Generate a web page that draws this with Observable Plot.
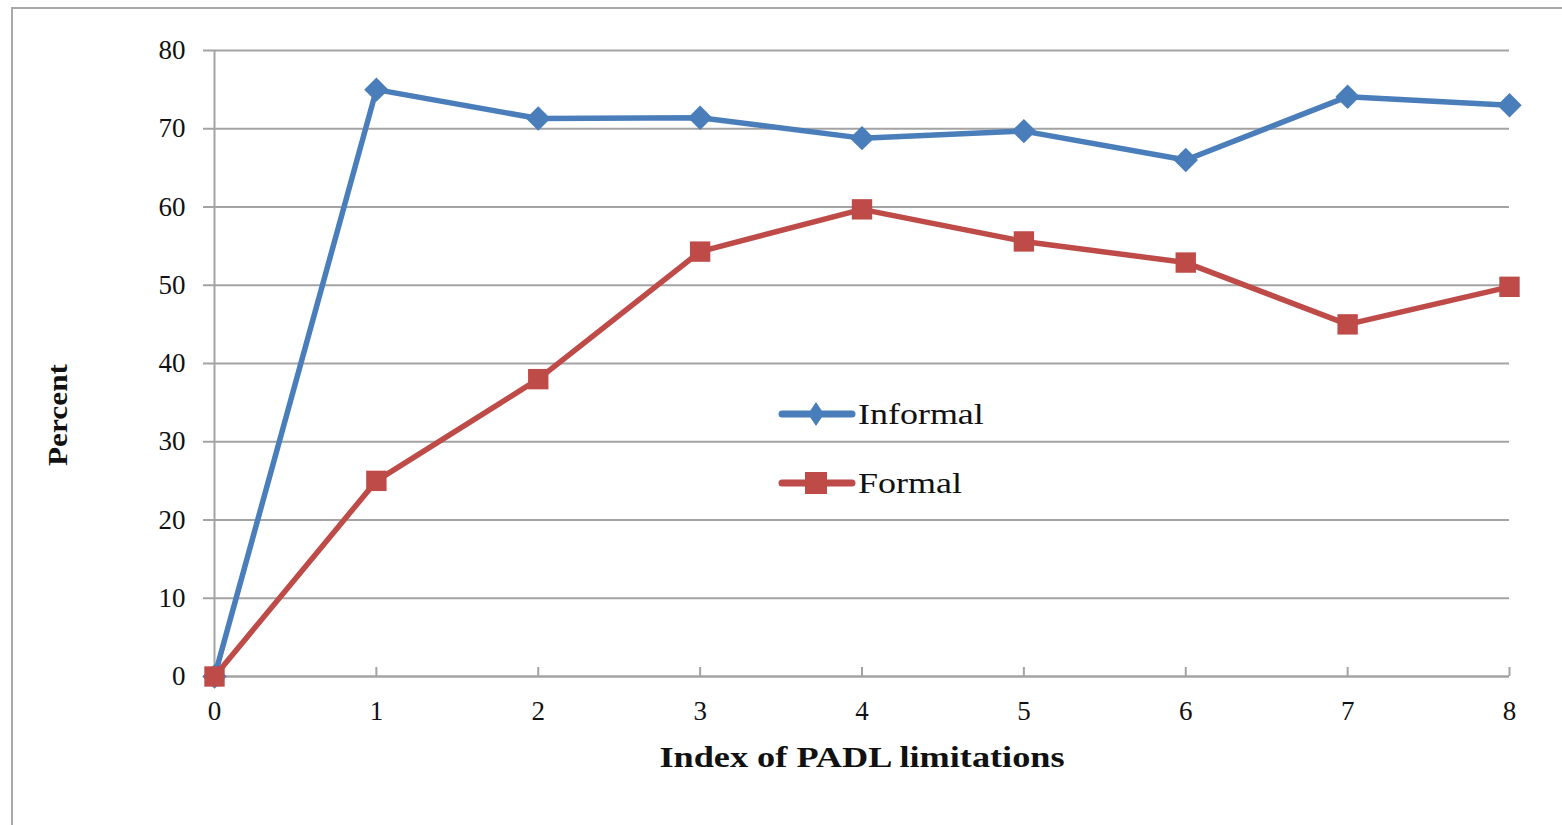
<!DOCTYPE html>
<html>
<head>
<meta charset="utf-8">
<script src="https://cdn.jsdelivr.net/npm/d3@7"></script>
<script src="https://cdn.jsdelivr.net/npm/@observablehq/plot@0.6"></script>
<style>
  html, body { margin: 0; padding: 0; background: #fff; width: 1562px; height: 825px; overflow: hidden; }
  #wrap { position: relative; width: 1562px; height: 825px; font-family: "Liberation Serif", serif; color: #111; }
  #frame { position: absolute; left: 11px; top: 7px; width: 1600px; height: 900px; border-top: 2px solid #a8a8a8; border-left: 2px solid #a8a8a8; }
  #chart { position: absolute; left: 0; top: 0; }
  .xlabel { position: absolute; left: 862px; top: 757px; transform: translate(-50%, -50%) scaleX(1.25); font-weight: bold; font-size: 29px; white-space: nowrap; }
  .ylabel { position: absolute; left: 58px; top: 415px; transform: translate(-50%, -50%) rotate(-90deg) scaleX(1.16); font-weight: bold; font-size: 27px; white-space: nowrap; }
  .legend { position: absolute; left: 778px; font-size: 29px; display: flex; align-items: center; }
  .legend svg { margin-right: 2px; }
  .legend span { display: inline-block; transform: scaleX(1.24); transform-origin: left center; }
</style>
</head>
<body>
<div id="wrap">
  <div id="frame"></div>
  <div id="chart"></div>
  <div class="xlabel">Index of PADL limitations</div>
  <div class="ylabel">Percent</div>
  <div id="legend"></div>
</div>
<script>
// ---- data ----
const xIndex = [0, 1, 2, 3, 4, 5, 6, 7, 8];
const informal = [0, 75, 71.3, 71.4, 68.8, 69.7, 66, 74.1, 73.0];
const formal = [0, 25, 38, 54.3, 59.7, 55.6, 52.9, 45.0, 49.8];
const yTicks = [0, 10, 20, 30, 40, 50, 60, 70, 80];
const xTicks = [0, 1, 2, 3, 4, 5, 6, 7, 8];
const seriesNames = ["Informal", "Formal"];
const seriesColors = ["#4a7ebb", "#be4b48"];

const infData = xIndex.map((x, i) => ({x, y: informal[i]}));
const forData = xIndex.map((x, i) => ({x, y: formal[i]}));
const grid = "#a3a3a3";

const chart = Plot.plot({
  width: 1562,
  height: 825,
  marginLeft: 214,
  marginRight: 53,
  marginTop: 50,
  marginBottom: 149,
  style: {fontFamily: "'Liberation Serif', serif", fontSize: "27px", color: "#111", background: "transparent"},
  x: {domain: [0, 8]},
  y: {domain: [0, 80]},
  marks: [
    Plot.ruleY(yTicks.filter(d => d > 0), {stroke: grid, strokeWidth: 2}),
    Plot.ruleY([0], {stroke: grid, strokeWidth: 2.5}),
    Plot.ruleX([0], {y1: 0, y2: 80, stroke: grid, strokeWidth: 2}),
    Plot.ruleX(xTicks.filter(d => d > 0), {y1: 0, y2: 0, insetTop: -9, stroke: grid, strokeWidth: 2}),
    Plot.axisY({ticks: yTicks, tickSize: 11, tickPadding: 18, label: null, stroke: grid, strokeWidth: 2, tickFormat: d => String(d)}),
    Plot.axisX({ticks: xTicks, tickSize: 0, tickPadding: 24, label: null, tickFormat: d => String(d)}),
    Plot.line(infData, {x: "x", y: "y", stroke: seriesColors[0], strokeWidth: 5.5, strokeLinejoin: "round", strokeLinecap: "round"}),
    Plot.dot(infData, {x: "x", y: "y", symbol: "diamond2", r: 11, fill: seriesColors[0], stroke: null}),
    Plot.line(forData, {x: "x", y: "y", stroke: seriesColors[1], strokeWidth: 5.5, strokeLinejoin: "round", strokeLinecap: "round"}),
    Plot.dot(forData, {x: "x", y: "y", symbol: "square", r: 11.5, fill: seriesColors[1], stroke: null})
  ]
});
document.getElementById("chart").appendChild(chart);

// ---- legend ----
const legend = document.getElementById("legend");
const legendTops = [396, 465];
seriesNames.forEach((name, i) => {
  const item = document.createElement("div");
  item.className = "legend";
  item.style.top = legendTops[i] + "px";
  const marker = i === 0
    ? `<polygon points="38,6 46,18 38,30 30,18" fill="${seriesColors[0]}"/>`
    : `<rect x="27" y="7" width="22" height="22" fill="${seriesColors[1]}"/>`;
  item.innerHTML = `<svg width="78" height="36"><line x1="4" y1="18" x2="74" y2="18" stroke="${seriesColors[i]}" stroke-width="7" stroke-linecap="round"/>${marker}</svg><span>${name}</span>`;
  legend.appendChild(item);
});
</script>
</body>
</html>
